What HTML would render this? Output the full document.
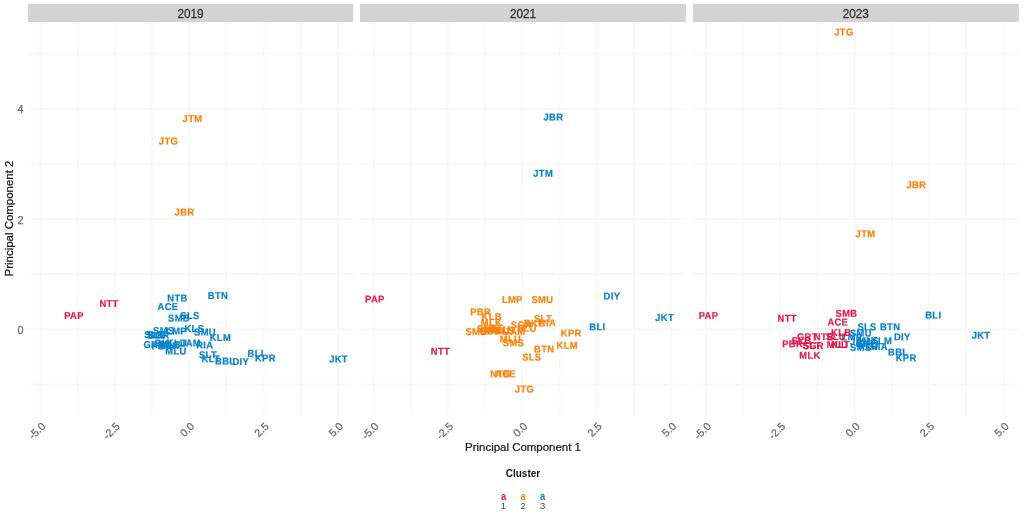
<!DOCTYPE html>
<html><head><meta charset="utf-8"><title>PCA clusters</title>
<style>
html,body{margin:0;padding:0;background:#fff;}
svg{display:block;filter:blur(0.68px);font-family:"Liberation Sans",Arial,sans-serif;}
.lab{font-weight:bold;letter-spacing:0.35px;stroke-width:0.22px;paint-order:stroke;stroke-linejoin:round;font-size:10.0px;text-anchor:middle;}
.tick{font-size:10.8px;fill:#6A6A6A;stroke:#6A6A6A;stroke-width:0.25px;}
.strip{font-size:12.7px;fill:#333;stroke:#333;stroke-width:0.3px;text-anchor:middle;}
.title{font-size:11.7px;fill:#1A1A1A;stroke:#1A1A1A;stroke-width:0.25px;text-anchor:middle;}
</style></head><body>
<svg width="1027" height="520" viewBox="0 0 1027 520">
<rect width="1027" height="520" fill="#fff"/>

<rect x="27.8" y="3.8" width="325.4" height="18.2" fill="#D3D3D3"/>
<text class="strip" transform="translate(190.5,18.3) scale(0.93,1)">2019</text>
<line x1="40.30" x2="40.30" y1="22.0" y2="415.7" stroke="#F8F8F8" stroke-width="1.6"/>
<line x1="77.50" x2="77.50" y1="22.0" y2="415.7" stroke="#F8F8F8" stroke-width="1.6"/>
<line x1="114.70" x2="114.70" y1="22.0" y2="415.7" stroke="#F8F8F8" stroke-width="1.6"/>
<line x1="151.90" x2="151.90" y1="22.0" y2="415.7" stroke="#F8F8F8" stroke-width="1.6"/>
<line x1="189.10" x2="189.10" y1="22.0" y2="415.7" stroke="#F8F8F8" stroke-width="1.6"/>
<line x1="226.30" x2="226.30" y1="22.0" y2="415.7" stroke="#F8F8F8" stroke-width="1.6"/>
<line x1="263.50" x2="263.50" y1="22.0" y2="415.7" stroke="#F8F8F8" stroke-width="1.6"/>
<line x1="300.70" x2="300.70" y1="22.0" y2="415.7" stroke="#F8F8F8" stroke-width="1.6"/>
<line x1="337.90" x2="337.90" y1="22.0" y2="415.7" stroke="#F8F8F8" stroke-width="1.6"/>
<line x1="27.8" x2="353.2" y1="384.51" y2="384.51" stroke="#F8F8F8" stroke-width="1.6"/>
<line x1="27.8" x2="353.2" y1="329.33" y2="329.33" stroke="#F8F8F8" stroke-width="1.6"/>
<line x1="27.8" x2="353.2" y1="274.15" y2="274.15" stroke="#F8F8F8" stroke-width="1.6"/>
<line x1="27.8" x2="353.2" y1="218.97" y2="218.97" stroke="#F8F8F8" stroke-width="1.6"/>
<line x1="27.8" x2="353.2" y1="163.79" y2="163.79" stroke="#F8F8F8" stroke-width="1.6"/>
<line x1="27.8" x2="353.2" y1="108.61" y2="108.61" stroke="#F8F8F8" stroke-width="1.6"/>
<line x1="27.8" x2="353.2" y1="53.43" y2="53.43" stroke="#F8F8F8" stroke-width="1.6"/>
<text class="tick" text-anchor="end" transform="translate(46.2,426.9) rotate(-45)">-5.0</text>
<text class="tick" text-anchor="end" transform="translate(120.6,426.9) rotate(-45)">-2.5</text>
<text class="tick" text-anchor="end" transform="translate(195.0,426.9) rotate(-45)">0.0</text>
<text class="tick" text-anchor="end" transform="translate(269.4,426.9) rotate(-45)">2.5</text>
<text class="tick" text-anchor="end" transform="translate(343.8,426.9) rotate(-45)">5.0</text>
<rect x="360.0" y="3.8" width="325.9" height="18.2" fill="#D3D3D3"/>
<text class="strip" transform="translate(523.0,18.3) scale(0.93,1)">2021</text>
<line x1="373.45" x2="373.45" y1="22.0" y2="415.7" stroke="#F8F8F8" stroke-width="1.6"/>
<line x1="410.65" x2="410.65" y1="22.0" y2="415.7" stroke="#F8F8F8" stroke-width="1.6"/>
<line x1="447.85" x2="447.85" y1="22.0" y2="415.7" stroke="#F8F8F8" stroke-width="1.6"/>
<line x1="485.05" x2="485.05" y1="22.0" y2="415.7" stroke="#F8F8F8" stroke-width="1.6"/>
<line x1="522.25" x2="522.25" y1="22.0" y2="415.7" stroke="#F8F8F8" stroke-width="1.6"/>
<line x1="559.45" x2="559.45" y1="22.0" y2="415.7" stroke="#F8F8F8" stroke-width="1.6"/>
<line x1="596.65" x2="596.65" y1="22.0" y2="415.7" stroke="#F8F8F8" stroke-width="1.6"/>
<line x1="633.85" x2="633.85" y1="22.0" y2="415.7" stroke="#F8F8F8" stroke-width="1.6"/>
<line x1="671.05" x2="671.05" y1="22.0" y2="415.7" stroke="#F8F8F8" stroke-width="1.6"/>
<line x1="360.0" x2="685.9" y1="384.51" y2="384.51" stroke="#F8F8F8" stroke-width="1.6"/>
<line x1="360.0" x2="685.9" y1="329.33" y2="329.33" stroke="#F8F8F8" stroke-width="1.6"/>
<line x1="360.0" x2="685.9" y1="274.15" y2="274.15" stroke="#F8F8F8" stroke-width="1.6"/>
<line x1="360.0" x2="685.9" y1="218.97" y2="218.97" stroke="#F8F8F8" stroke-width="1.6"/>
<line x1="360.0" x2="685.9" y1="163.79" y2="163.79" stroke="#F8F8F8" stroke-width="1.6"/>
<line x1="360.0" x2="685.9" y1="108.61" y2="108.61" stroke="#F8F8F8" stroke-width="1.6"/>
<line x1="360.0" x2="685.9" y1="53.43" y2="53.43" stroke="#F8F8F8" stroke-width="1.6"/>
<text class="tick" text-anchor="end" transform="translate(379.3,426.9) rotate(-45)">-5.0</text>
<text class="tick" text-anchor="end" transform="translate(453.8,426.9) rotate(-45)">-2.5</text>
<text class="tick" text-anchor="end" transform="translate(528.1,426.9) rotate(-45)">0.0</text>
<text class="tick" text-anchor="end" transform="translate(602.5,426.9) rotate(-45)">2.5</text>
<text class="tick" text-anchor="end" transform="translate(676.9,426.9) rotate(-45)">5.0</text>
<rect x="692.9" y="3.8" width="325.9" height="18.2" fill="#D3D3D3"/>
<text class="strip" transform="translate(855.8,18.3) scale(0.93,1)">2023</text>
<line x1="705.85" x2="705.85" y1="22.0" y2="415.7" stroke="#F8F8F8" stroke-width="1.6"/>
<line x1="743.05" x2="743.05" y1="22.0" y2="415.7" stroke="#F8F8F8" stroke-width="1.6"/>
<line x1="780.25" x2="780.25" y1="22.0" y2="415.7" stroke="#F8F8F8" stroke-width="1.6"/>
<line x1="817.45" x2="817.45" y1="22.0" y2="415.7" stroke="#F8F8F8" stroke-width="1.6"/>
<line x1="854.65" x2="854.65" y1="22.0" y2="415.7" stroke="#F8F8F8" stroke-width="1.6"/>
<line x1="891.85" x2="891.85" y1="22.0" y2="415.7" stroke="#F8F8F8" stroke-width="1.6"/>
<line x1="929.05" x2="929.05" y1="22.0" y2="415.7" stroke="#F8F8F8" stroke-width="1.6"/>
<line x1="966.25" x2="966.25" y1="22.0" y2="415.7" stroke="#F8F8F8" stroke-width="1.6"/>
<line x1="1003.45" x2="1003.45" y1="22.0" y2="415.7" stroke="#F8F8F8" stroke-width="1.6"/>
<line x1="692.9" x2="1018.8" y1="384.51" y2="384.51" stroke="#F8F8F8" stroke-width="1.6"/>
<line x1="692.9" x2="1018.8" y1="329.33" y2="329.33" stroke="#F8F8F8" stroke-width="1.6"/>
<line x1="692.9" x2="1018.8" y1="274.15" y2="274.15" stroke="#F8F8F8" stroke-width="1.6"/>
<line x1="692.9" x2="1018.8" y1="218.97" y2="218.97" stroke="#F8F8F8" stroke-width="1.6"/>
<line x1="692.9" x2="1018.8" y1="163.79" y2="163.79" stroke="#F8F8F8" stroke-width="1.6"/>
<line x1="692.9" x2="1018.8" y1="108.61" y2="108.61" stroke="#F8F8F8" stroke-width="1.6"/>
<line x1="692.9" x2="1018.8" y1="53.43" y2="53.43" stroke="#F8F8F8" stroke-width="1.6"/>
<text class="tick" text-anchor="end" transform="translate(711.7,426.9) rotate(-45)">-5.0</text>
<text class="tick" text-anchor="end" transform="translate(786.1,426.9) rotate(-45)">-2.5</text>
<text class="tick" text-anchor="end" transform="translate(860.5,426.9) rotate(-45)">0.0</text>
<text class="tick" text-anchor="end" transform="translate(934.9,426.9) rotate(-45)">2.5</text>
<text class="tick" text-anchor="end" transform="translate(1009.4,426.9) rotate(-45)">5.0</text>
<text class="tick" text-anchor="end" x="23.4" y="334.1">0</text>
<text class="tick" text-anchor="end" x="23.4" y="223.8">2</text>
<text class="tick" text-anchor="end" x="23.4" y="113.4">4</text>
<text class="title" transform="translate(13,218.5) rotate(-90) scale(0.98,1)">Principal Component 2</text>
<text class="title" transform="translate(523,451.2) scale(0.98,1)">Principal Component 1</text>
<text x="523" y="477" text-anchor="middle" font-weight="bold" font-size="10px" fill="#111">Cluster</text>
<text transform="translate(503.5,499.7) scale(0.9,1)" text-anchor="middle" font-weight="bold" font-size="10.4px" fill="#E6194B">a</text>
<text x="503.5" y="508.8" text-anchor="middle" font-size="9.5px" fill="#4D4D4D">1</text>
<text transform="translate(523.1,499.7) scale(0.9,1)" text-anchor="middle" font-weight="bold" font-size="10.4px" fill="#FF800A">a</text>
<text x="523.1" y="508.8" text-anchor="middle" font-size="9.5px" fill="#4D4D4D">2</text>
<text transform="translate(542.6,499.7) scale(0.9,1)" text-anchor="middle" font-weight="bold" font-size="10.4px" fill="#0882CA">a</text>
<text x="542.6" y="508.8" text-anchor="middle" font-size="9.5px" fill="#4D4D4D">3</text>
<text class="lab" transform="translate(154.2,338.1) scale(0.94,1) rotate(0.03)" fill="#0882CA" stroke="#0882CA">SLB</text>
<text class="lab" transform="translate(159.0,338.6) scale(0.94,1) rotate(0.03)" fill="#0882CA" stroke="#0882CA">SGR</text>
<text class="lab" transform="translate(156.5,338.4) scale(0.94,1) rotate(0.03)" fill="#0882CA" stroke="#0882CA">SLU</text>
<text class="lab" transform="translate(153.8,348.1) scale(0.94,1) rotate(0.03)" fill="#0882CA" stroke="#0882CA">GRT</text>
<text class="lab" transform="translate(165.0,346.6) scale(0.94,1) rotate(0.03)" fill="#0882CA" stroke="#0882CA">BKL</text>
<text class="lab" transform="translate(171.0,348.1) scale(0.94,1) rotate(0.03)" fill="#0882CA" stroke="#0882CA">KLB</text>
<text class="lab" transform="translate(177.0,346.6) scale(0.94,1) rotate(0.03)" fill="#0882CA" stroke="#0882CA">KLU</text>
<text class="lab" transform="translate(162.0,349.6) scale(0.94,1) rotate(0.03)" fill="#0882CA" stroke="#0882CA">PBR</text>
<text class="lab" transform="translate(168.5,349.1) scale(0.94,1) rotate(0.03)" fill="#0882CA" stroke="#0882CA">MLK</text>
<text class="lab" transform="translate(163.7,334.1) scale(0.94,1) rotate(0.03)" fill="#0882CA" stroke="#0882CA">SMS</text>
<text class="lab" transform="translate(176.5,334.6) scale(0.94,1) rotate(0.03)" fill="#0882CA" stroke="#0882CA">LMP</text>
<text class="lab" transform="translate(194.4,332.1) scale(0.94,1) rotate(0.03)" fill="#0882CA" stroke="#0882CA">KLS</text>
<text class="lab" transform="translate(205.0,335.6) scale(0.94,1) rotate(0.03)" fill="#0882CA" stroke="#0882CA">SMU</text>
<text class="lab" transform="translate(220.4,341.1) scale(0.94,1) rotate(0.03)" fill="#0882CA" stroke="#0882CA">KLM</text>
<text class="lab" transform="translate(190.5,346.6) scale(0.94,1) rotate(0.03)" fill="#0882CA" stroke="#0882CA">JAM</text>
<text class="lab" transform="translate(204.8,348.4) scale(0.94,1) rotate(0.03)" fill="#0882CA" stroke="#0882CA">RIA</text>
<text class="lab" transform="translate(176.0,354.6) scale(0.94,1) rotate(0.03)" fill="#0882CA" stroke="#0882CA">MLU</text>
<text class="lab" transform="translate(210.8,362.2) scale(0.94,1) rotate(0.03)" fill="#0882CA" stroke="#0882CA">KLT</text>
<text class="lab" transform="translate(208.0,358.2) scale(0.94,1) rotate(0.03)" fill="#0882CA" stroke="#0882CA">SLT</text>
<text class="lab" transform="translate(225.2,364.6) scale(0.94,1) rotate(0.03)" fill="#0882CA" stroke="#0882CA">BBL</text>
<text class="lab" transform="translate(240.7,364.9) scale(0.94,1) rotate(0.03)" fill="#0882CA" stroke="#0882CA">DIY</text>
<text class="lab" transform="translate(255.6,356.8) scale(0.94,1) rotate(0.03)" fill="#0882CA" stroke="#0882CA">BLI</text>
<text class="lab" transform="translate(265.4,361.6) scale(0.94,1) rotate(0.03)" fill="#0882CA" stroke="#0882CA">KPR</text>
<text class="lab" transform="translate(338.5,362.6) scale(0.94,1) rotate(0.03)" fill="#0882CA" stroke="#0882CA">JKT</text>
<text class="lab" transform="translate(190.0,318.9) scale(0.94,1) rotate(0.03)" fill="#0882CA" stroke="#0882CA">SLS</text>
<text class="lab" transform="translate(179.0,321.6) scale(0.94,1) rotate(0.03)" fill="#0882CA" stroke="#0882CA">SMB</text>
<text class="lab" transform="translate(168.0,310.1) scale(0.94,1) rotate(0.03)" fill="#0882CA" stroke="#0882CA">ACE</text>
<text class="lab" transform="translate(177.5,301.6) scale(0.94,1) rotate(0.03)" fill="#0882CA" stroke="#0882CA">NTB</text>
<text class="lab" transform="translate(218.0,299.1) scale(0.94,1) rotate(0.03)" fill="#0882CA" stroke="#0882CA">BTN</text>
<text class="lab" transform="translate(74.0,319.1) scale(0.94,1) rotate(0.03)" fill="#E6194B" stroke="#E6194B">PAP</text>
<text class="lab" transform="translate(109.0,307.1) scale(0.94,1) rotate(0.03)" fill="#E6194B" stroke="#E6194B">NTT</text>
<text class="lab" transform="translate(192.5,122.1) scale(0.94,1) rotate(0.03)" fill="#FF800A" stroke="#FF800A">JTM</text>
<text class="lab" transform="translate(168.5,144.6) scale(0.94,1) rotate(0.03)" fill="#FF800A" stroke="#FF800A">JTG</text>
<text class="lab" transform="translate(184.5,215.6) scale(0.94,1) rotate(0.03)" fill="#FF800A" stroke="#FF800A">JBR</text>
<text class="lab" transform="translate(374.9,302.4) scale(0.94,1) rotate(0.03)" fill="#E6194B" stroke="#E6194B">PAP</text>
<text class="lab" transform="translate(440.4,354.7) scale(0.94,1) rotate(0.03)" fill="#E6194B" stroke="#E6194B">NTT</text>
<text class="lab" transform="translate(611.9,299.4) scale(0.94,1) rotate(0.03)" fill="#0882CA" stroke="#0882CA">DIY</text>
<text class="lab" transform="translate(664.6,321.0) scale(0.94,1) rotate(0.03)" fill="#0882CA" stroke="#0882CA">JKT</text>
<text class="lab" transform="translate(597.4,330.2) scale(0.94,1) rotate(0.03)" fill="#0882CA" stroke="#0882CA">BLI</text>
<text class="lab" transform="translate(553.4,120.5) scale(0.94,1) rotate(0.03)" fill="#0882CA" stroke="#0882CA">JBR</text>
<text class="lab" transform="translate(543.2,176.8) scale(0.94,1) rotate(0.03)" fill="#0882CA" stroke="#0882CA">JTM</text>
<text class="lab" transform="translate(512.3,303.1) scale(0.94,1) rotate(0.03)" fill="#FF800A" stroke="#FF800A">LMP</text>
<text class="lab" transform="translate(542.4,303.1) scale(0.94,1) rotate(0.03)" fill="#FF800A" stroke="#FF800A">SMU</text>
<text class="lab" transform="translate(571.2,336.5) scale(0.94,1) rotate(0.03)" fill="#FF800A" stroke="#FF800A">KPR</text>
<text class="lab" transform="translate(567.2,348.8) scale(0.94,1) rotate(0.03)" fill="#FF800A" stroke="#FF800A">KLM</text>
<text class="lab" transform="translate(544.2,352.6) scale(0.94,1) rotate(0.03)" fill="#FF800A" stroke="#FF800A">BTN</text>
<text class="lab" transform="translate(531.8,360.6) scale(0.94,1) rotate(0.03)" fill="#FF800A" stroke="#FF800A">SLS</text>
<text class="lab" transform="translate(524.5,392.5) scale(0.94,1) rotate(0.03)" fill="#FF800A" stroke="#FF800A">JTG</text>
<text class="lab" transform="translate(500.5,377.2) scale(0.94,1) rotate(0.03)" fill="#FF800A" stroke="#FF800A">NTB</text>
<text class="lab" transform="translate(505.5,377.2) scale(0.94,1) rotate(0.03)" fill="#FF800A" stroke="#FF800A">ACE</text>
<text class="lab" transform="translate(480.6,315.2) scale(0.94,1) rotate(0.03)" fill="#FF800A" stroke="#FF800A">PBR</text>
<text class="lab" transform="translate(491.7,320.1) scale(0.94,1) rotate(0.03)" fill="#FF800A" stroke="#FF800A">KLB</text>
<text class="lab" transform="translate(491.5,326.1) scale(0.94,1) rotate(0.03)" fill="#FF800A" stroke="#FF800A">MLK</text>
<text class="lab" transform="translate(476.4,335.0) scale(0.94,1) rotate(0.03)" fill="#FF800A" stroke="#FF800A">SMB</text>
<text class="lab" transform="translate(487.0,332.1) scale(0.94,1) rotate(0.03)" fill="#FF800A" stroke="#FF800A">SLB</text>
<text class="lab" transform="translate(490.0,334.1) scale(0.94,1) rotate(0.03)" fill="#FF800A" stroke="#FF800A">GRT</text>
<text class="lab" transform="translate(494.0,331.6) scale(0.94,1) rotate(0.03)" fill="#FF800A" stroke="#FF800A">KLT</text>
<text class="lab" transform="translate(497.0,334.6) scale(0.94,1) rotate(0.03)" fill="#FF800A" stroke="#FF800A">BBL</text>
<text class="lab" transform="translate(500.0,333.1) scale(0.94,1) rotate(0.03)" fill="#FF800A" stroke="#FF800A">KLU</text>
<text class="lab" transform="translate(505.0,334.1) scale(0.94,1) rotate(0.03)" fill="#FF800A" stroke="#FF800A">KLS</text>
<text class="lab" transform="translate(515.0,334.9) scale(0.94,1) rotate(0.03)" fill="#FF800A" stroke="#FF800A">JAM</text>
<text class="lab" transform="translate(521.5,328.2) scale(0.94,1) rotate(0.03)" fill="#FF800A" stroke="#FF800A">SGR</text>
<text class="lab" transform="translate(526.8,331.8) scale(0.94,1) rotate(0.03)" fill="#FF800A" stroke="#FF800A">SLU</text>
<text class="lab" transform="translate(534.0,326.6) scale(0.94,1) rotate(0.03)" fill="#FF800A" stroke="#FF800A">BKL</text>
<text class="lab" transform="translate(543.0,321.9) scale(0.94,1) rotate(0.03)" fill="#FF800A" stroke="#FF800A">SLT</text>
<text class="lab" transform="translate(547.5,326.2) scale(0.94,1) rotate(0.03)" fill="#FF800A" stroke="#FF800A">RIA</text>
<text class="lab" transform="translate(510.4,342.4) scale(0.94,1) rotate(0.03)" fill="#FF800A" stroke="#FF800A">MLU</text>
<text class="lab" transform="translate(513.5,346.2) scale(0.94,1) rotate(0.03)" fill="#FF800A" stroke="#FF800A">SMS</text>
<text class="lab" transform="translate(843.9,35.6) scale(0.94,1) rotate(0.03)" fill="#FF800A" stroke="#FF800A">JTG</text>
<text class="lab" transform="translate(916.3,188.3) scale(0.94,1) rotate(0.03)" fill="#FF800A" stroke="#FF800A">JBR</text>
<text class="lab" transform="translate(865.5,237.2) scale(0.94,1) rotate(0.03)" fill="#FF800A" stroke="#FF800A">JTM</text>
<text class="lab" transform="translate(852.0,340.6) scale(0.94,1) rotate(0.03)" fill="#0882CA" stroke="#0882CA">LMP</text>
<text class="lab" transform="translate(708.5,319.0) scale(0.94,1) rotate(0.03)" fill="#E6194B" stroke="#E6194B">PAP</text>
<text class="lab" transform="translate(787.2,321.8) scale(0.94,1) rotate(0.03)" fill="#E6194B" stroke="#E6194B">NTT</text>
<text class="lab" transform="translate(846.5,316.8) scale(0.94,1) rotate(0.03)" fill="#E6194B" stroke="#E6194B">SMB</text>
<text class="lab" transform="translate(837.8,325.4) scale(0.94,1) rotate(0.03)" fill="#E6194B" stroke="#E6194B">ACE</text>
<text class="lab" transform="translate(836.0,339.9) scale(0.94,1) rotate(0.03)" fill="#E6194B" stroke="#E6194B">SLU</text>
<text class="lab" transform="translate(841.2,335.9) scale(0.94,1) rotate(0.03)" fill="#E6194B" stroke="#E6194B">KLB</text>
<text class="lab" transform="translate(807.3,340.2) scale(0.94,1) rotate(0.03)" fill="#E6194B" stroke="#E6194B">GRT</text>
<text class="lab" transform="translate(824.0,340.2) scale(0.94,1) rotate(0.03)" fill="#E6194B" stroke="#E6194B">NTB</text>
<text class="lab" transform="translate(801.5,344.0) scale(0.94,1) rotate(0.03)" fill="#E6194B" stroke="#E6194B">SLB</text>
<text class="lab" transform="translate(792.6,347.3) scale(0.94,1) rotate(0.03)" fill="#E6194B" stroke="#E6194B">PBR</text>
<text class="lab" transform="translate(812.0,349.1) scale(0.94,1) rotate(0.03)" fill="#E6194B" stroke="#E6194B">SLT</text>
<text class="lab" transform="translate(813.2,349.1) scale(0.94,1) rotate(0.03)" fill="#E6194B" stroke="#E6194B">SGR</text>
<text class="lab" transform="translate(809.9,358.8) scale(0.94,1) rotate(0.03)" fill="#E6194B" stroke="#E6194B">MLK</text>
<text class="lab" transform="translate(837.5,348.0) scale(0.94,1) rotate(0.03)" fill="#E6194B" stroke="#E6194B">MLU</text>
<text class="lab" transform="translate(840.5,348.0) scale(0.94,1) rotate(0.03)" fill="#E6194B" stroke="#E6194B">KLT</text>
<text class="lab" transform="translate(860.9,336.6) scale(0.94,1) rotate(0.03)" fill="#0882CA" stroke="#0882CA">SMU</text>
<text class="lab" transform="translate(867.1,330.2) scale(0.94,1) rotate(0.03)" fill="#0882CA" stroke="#0882CA">SLS</text>
<text class="lab" transform="translate(890.1,330.2) scale(0.94,1) rotate(0.03)" fill="#0882CA" stroke="#0882CA">BTN</text>
<text class="lab" transform="translate(902.2,340.2) scale(0.94,1) rotate(0.03)" fill="#0882CA" stroke="#0882CA">DIY</text>
<text class="lab" transform="translate(860.5,345.1) scale(0.94,1) rotate(0.03)" fill="#0882CA" stroke="#0882CA">JAM</text>
<text class="lab" transform="translate(866.0,347.1) scale(0.94,1) rotate(0.03)" fill="#0882CA" stroke="#0882CA">BKL</text>
<text class="lab" transform="translate(869.0,344.1) scale(0.94,1) rotate(0.03)" fill="#0882CA" stroke="#0882CA">KLS</text>
<text class="lab" transform="translate(860.7,350.7) scale(0.94,1) rotate(0.03)" fill="#0882CA" stroke="#0882CA">SMS</text>
<text class="lab" transform="translate(879.3,350.0) scale(0.94,1) rotate(0.03)" fill="#0882CA" stroke="#0882CA">RIA</text>
<text class="lab" transform="translate(868.5,349.6) scale(0.94,1) rotate(0.03)" fill="#0882CA" stroke="#0882CA">KLU</text>
<text class="lab" transform="translate(881.5,344.2) scale(0.94,1) rotate(0.03)" fill="#0882CA" stroke="#0882CA">KLM</text>
<text class="lab" transform="translate(898.2,355.4) scale(0.94,1) rotate(0.03)" fill="#0882CA" stroke="#0882CA">BBL</text>
<text class="lab" transform="translate(906.1,361.2) scale(0.94,1) rotate(0.03)" fill="#0882CA" stroke="#0882CA">KPR</text>
<text class="lab" transform="translate(933.3,318.4) scale(0.94,1) rotate(0.03)" fill="#0882CA" stroke="#0882CA">BLI</text>
<text class="lab" transform="translate(981.0,338.8) scale(0.94,1) rotate(0.03)" fill="#0882CA" stroke="#0882CA">JKT</text>
</svg></body></html>
